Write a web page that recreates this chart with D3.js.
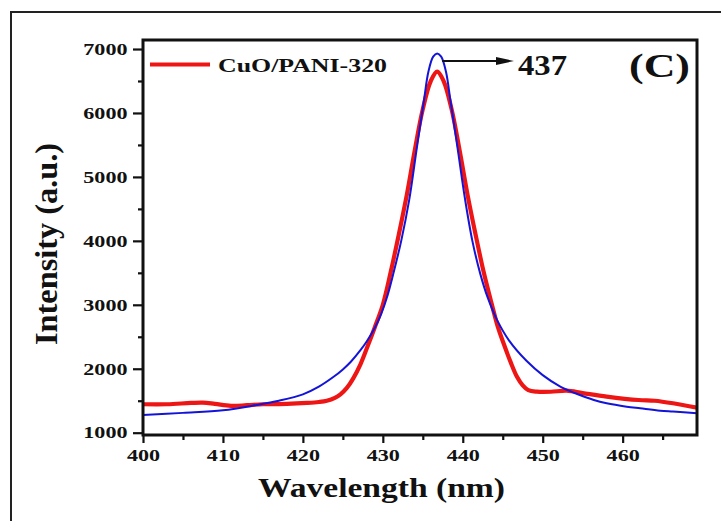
<!DOCTYPE html>
<html>
<head>
<meta charset="utf-8">
<script src="https://cdn.jsdelivr.net/npm/d3@7/dist/d3.min.js"></script>
<style>
  html, body { margin: 0; padding: 0; background: #fff; }
  svg { display: block; }
  text { font-family: "Liberation Serif", "Times New Roman", serif; font-weight: bold; fill: #111; }
</style>
</head>
<body>
<svg id="chart" width="721" height="521"></svg>
<script>
// PL spectrum, CuO/PANI-320: measured curve (red) and fitted peak (blue)
const measuredWavelength = [400, 403, 406, 407.5, 409, 411, 413, 415, 418, 420.5, 422, 423, 424, 424.7, 425.5, 426.3, 427.2, 428, 429, 430, 431, 432, 433, 434, 435, 436, 436.8, 437.6, 438.6, 439.6, 440.6, 441.6, 442.6, 443.6, 444.4, 445.1, 446, 446.8, 447.5, 448.2, 449.3, 451, 453, 455, 458, 462, 464, 466.3, 469.3];
const measuredIntensity = [1445, 1445, 1465, 1470, 1450, 1420, 1430, 1445, 1450, 1465, 1480, 1500, 1545, 1600, 1700, 1850, 2070, 2320, 2650, 3000, 3520, 4100, 4720, 5420, 6060, 6500, 6645, 6500, 6060, 5420, 4720, 4100, 3520, 3023, 2650, 2398, 2100, 1870, 1740, 1665, 1641, 1640, 1657, 1620, 1565, 1511, 1500, 1460, 1390];

const fitWavelength = [400, 405, 410, 414.2, 417, 420, 422, 423.8, 425, 426, 427.2, 428, 429, 429.8, 430.6, 431.3, 432.3, 433.3, 434.25, 435.15, 435.7, 436.3, 436.8, 437.3, 437.9, 438.45, 439.35, 440.3, 441.2, 442.2, 443.1, 444.3, 445.8, 448.0, 450, 452.2, 454, 456.4, 458, 460.5, 462.2, 464.7, 466.3, 469.3];
const fitIntensity = [1277, 1310, 1350, 1433, 1500, 1600, 1720, 1870, 1990, 2110, 2290, 2430, 2640, 2860, 3150, 3480, 4000, 4640, 5450, 6203, 6645, 6880, 6930, 6880, 6645, 6203, 5450, 4640, 4000, 3480, 3120, 2760, 2440, 2120, 1900, 1720, 1620, 1511, 1460, 1407, 1381, 1344, 1330, 1305];

const xMajorTicks = [400, 410, 420, 430, 440, 450, 460];
const xMinorTicks = [405, 415, 425, 435, 445, 455, 465];
const yMajorTicks = [1000, 2000, 3000, 4000, 5000, 6000, 7000];
const yMinorTicks = [1500, 2500, 3500, 4500, 5500, 6500];
const xDomain = [400, 469.3];
const yDomain = [964, 7141];

const seriesLabel = "CuO/PANI-320";
const peakLabel = "437";
const peakWavelength = 436.8;
const peakIntensity = 6930;
const panelLabel = "(C)";

const svg = d3.select("#chart");
const plot = { left: 143, top: 40, right: 697, bottom: 435 };
const stretch = 1.34;

// outer panel border (runs past the page edge on right and bottom)
svg.append("rect")
  .attr("x", 11).attr("y", 12).attr("width", 760).attr("height", 560)
  .attr("fill", "none").attr("stroke", "#222").attr("stroke-width", 2);

const x = d3.scaleLinear().domain(xDomain).range([plot.left, plot.right]);
const y = d3.scaleLinear().domain(yDomain).range([plot.bottom, plot.top]);

const line = d3.line().curve(d3.curveCatmullRom.alpha(0.5));

svg.append("clipPath").attr("id", "plotclip")
  .append("rect").attr("x", plot.left).attr("y", plot.top - 20)
  .attr("width", plot.right - plot.left).attr("height", plot.bottom - plot.top + 20);

const curves = svg.append("g").attr("clip-path", "url(#plotclip)");

curves.append("path")
  .attr("d", line(measuredWavelength.map((w, i) => [x(w), y(measuredIntensity[i])])))
  .attr("fill", "none").attr("stroke", "#ee1515").attr("stroke-width", 4.2)
  .attr("stroke-linejoin", "round");

curves.append("path")
  .attr("d", line(fitWavelength.map((w, i) => [x(w), y(fitIntensity[i])])))
  .attr("fill", "none").attr("stroke", "#1414d8").attr("stroke-width", 2)
  .attr("stroke-linejoin", "round");

// axes
function styleAxis(g) {
  g.select(".domain").remove();
  g.selectAll(".tick line").attr("stroke", "#111").attr("stroke-width", 2.2);
}

const xAxis = svg.append("g").attr("transform", `translate(0,${plot.bottom})`)
  .call(d3.axisBottom(x).tickValues(xMajorTicks).tickSize(8).tickPadding(6).tickFormat(d3.format("d")));
styleAxis(xAxis);
xAxis.selectAll(".tick text")
  .attr("font-size", 16.5).attr("dy", "0.71em")
  .attr("transform", `scale(${stretch},1)`);

svg.append("g").attr("transform", `translate(0,${plot.bottom})`)
  .call(d3.axisBottom(x).tickValues(xMinorTicks).tickSize(5).tickFormat(""))
  .call(styleAxis);

const yAxis = svg.append("g").attr("transform", `translate(${plot.left},0)`)
  .call(d3.axisLeft(y).tickValues(yMajorTicks).tickSize(10).tickPadding(5).tickFormat(d3.format("d")));
styleAxis(yAxis);
yAxis.selectAll(".tick text")
  .attr("font-size", 16.5).attr("x", -15.5 / stretch)
  .attr("transform", `scale(${stretch},1)`);

svg.append("g").attr("transform", `translate(${plot.left},0)`)
  .call(d3.axisLeft(y).tickValues(yMinorTicks).tickSize(5).tickFormat(""))
  .call(styleAxis);

// plot frame
svg.append("rect")
  .attr("x", plot.left).attr("y", plot.top)
  .attr("width", plot.right - plot.left).attr("height", plot.bottom - plot.top)
  .attr("fill", "none").attr("stroke", "#111").attr("stroke-width", 3);

// axis titles
svg.append("text")
  .attr("x", 258).attr("y", 497)
  .attr("font-size", 27).attr("textLength", 247).attr("lengthAdjust", "spacingAndGlyphs")
  .text("Wavelength (nm)");

svg.append("text")
  .attr("transform", "translate(57,345) rotate(-90)")
  .attr("font-size", 31).attr("textLength", 202).attr("lengthAdjust", "spacingAndGlyphs")
  .text("Intensity (a.u.)");

// legend
svg.append("line")
  .attr("x1", 150).attr("x2", 210).attr("y1", 64.5).attr("y2", 64.5)
  .attr("stroke", "#ee1515").attr("stroke-width", 4);
svg.append("text")
  .attr("x", 218).attr("y", 71.5)
  .attr("font-size", 19.5).attr("textLength", 169).attr("lengthAdjust", "spacingAndGlyphs")
  .text(seriesLabel);

// peak marker arrow
const arrowY = y(peakIntensity) + 7.5;
svg.append("line")
  .attr("x1", x(peakWavelength) + 5).attr("x2", 500)
  .attr("y1", arrowY).attr("y2", arrowY)
  .attr("stroke", "#111").attr("stroke-width", 2.2);
svg.append("path")
  .attr("d", `M496,${arrowY - 4} L514,${arrowY} L496,${arrowY + 4} Z`)
  .attr("fill", "#111");

svg.append("text")
  .attr("x", 518).attr("y", 75)
  .attr("font-size", 29).attr("textLength", 49).attr("lengthAdjust", "spacingAndGlyphs")
  .text(peakLabel);

svg.append("text")
  .attr("x", 629).attr("y", 77)
  .attr("font-size", 34).attr("textLength", 61).attr("lengthAdjust", "spacingAndGlyphs")
  .text(panelLabel);
</script>
</body>
</html>
